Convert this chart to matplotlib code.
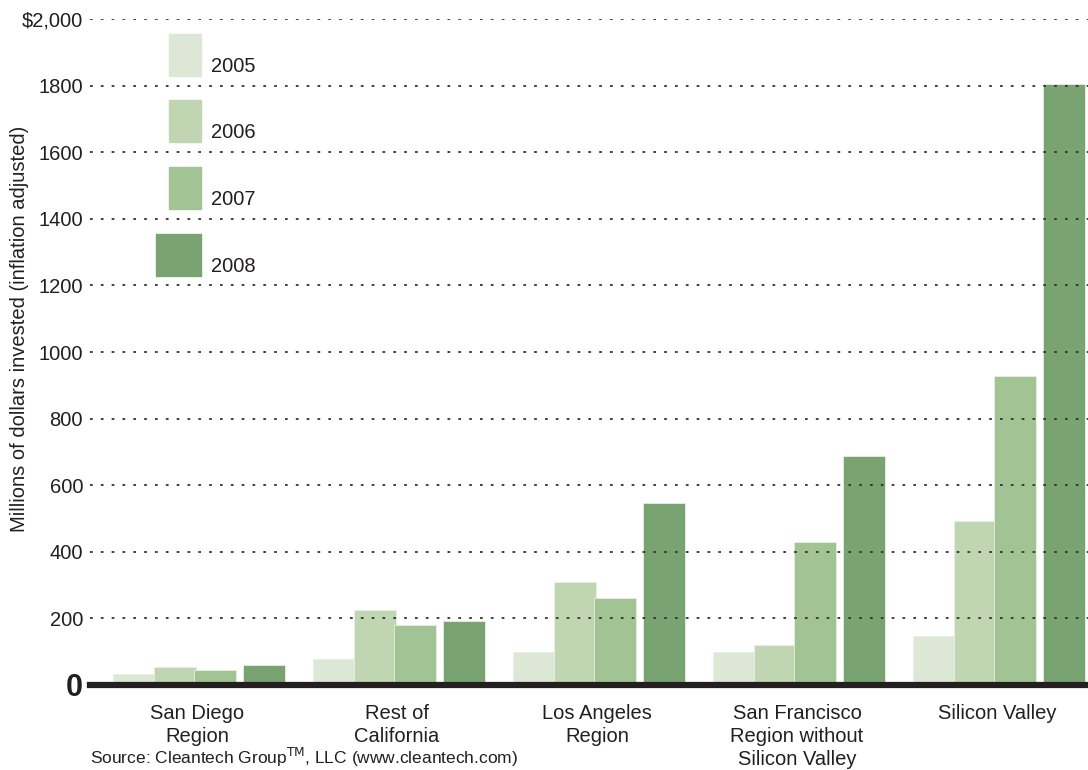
import matplotlib
matplotlib.use("Agg")
import matplotlib.pyplot as plt
from matplotlib.patches import Rectangle
import numpy as np

plt.rcParams["font.family"] = ["Liberation Sans Narrow", "Liberation Sans", "DejaVu Sans"]

regions = ["San Diego\nRegion", "Rest of\nCalifornia", "Los Angeles\nRegion",
           "San Francisco\nRegion without\nSilicon Valley", "Silicon Valley"]
years = ["2005", "2006", "2007", "2008"]
inv_2005 = [33, 78, 98, 98, 147]
inv_2006 = [54, 226, 308, 119, 492]
inv_2007 = [46, 179, 260, 429, 928]
inv_2008 = [60, 192, 547, 688, 1805]
y_ticks = [0, 200, 400, 600, 800, 1000, 1200, 1400, 1600, 1800, 2000]
y_ticklabels = ["0", "200", "400", "600", "800", "1000", "1200", "1400", "1600", "1800", "$2,000"]

colors = ["#dde7d6", "#c0d5b2", "#a2c393", "#7aa372"]
offsets = [-0.315, -0.11, 0.09, 0.335]
width = 0.21

W, H = 1088, 770
fig = plt.figure(figsize=(W / 100, H / 100), dpi=100)
ax = fig.add_axes([90 / W, 1 - 685 / H, 998 / W, 666 / H])

x = np.arange(len(regions))
for vals, off, c in zip([inv_2005, inv_2006, inv_2007, inv_2008], offsets, colors):
    ax.bar(x + off, vals, width, color=c, edgecolor="#e8efe3", linewidth=0.6, zorder=2)

ax.set_xlim(-0.535, 4.455)
ax.set_ylim(0, 2000)
for t in y_ticks[1:]:
    ax.axhline(t, color="#333333", lw=1.3, linestyle=(0, (1.5, 4.5)), zorder=3)
ax.axhline(0, color="#231f20", lw=4.5, zorder=4, clip_on=False)

ax.set_yticks(y_ticks)
ax.set_yticklabels(y_ticklabels, fontsize=14.5, color="#231f20")
ax.get_yticklabels()[0].set_fontsize(22)
ax.get_yticklabels()[0].set_fontweight("bold")
ax.tick_params(axis="y", length=0, pad=5)
ax.set_xticks(x)
ax.set_xticklabels(regions, fontsize=14.5, color="#231f20", linespacing=1.25, va="top")
ax.tick_params(axis="x", length=0, pad=14)
for s in ax.spines.values():
    s.set_visible(False)

fig.text(20 / W, 1 - 329 / H, "Millions of dollars invested (inflation adjusted)",
         rotation=90, ha="center", va="center", fontsize=14.5, color="#231f20")

# legend boxes (drawn by hand, stacked like the original)
leg_boxes = [(169, 34, 201, 76), (169, 100, 201, 142), (169, 167, 201, 209), (156, 234, 201, 276)]
for (x0, y0, x1, y1), c, yr in zip(leg_boxes, colors, years):
    fig.patches.append(Rectangle((x0 / W, 1 - y1 / H), (x1 - x0) / W, (y1 - y0) / H,
                                 transform=fig.transFigure, color=c, figure=fig))
    fig.text(211 / W, 1 - y1 / H, yr, ha="left", va="bottom", fontsize=14.5, color="#231f20")

fig.text(90 / W, 1 - 769 / H, r"Source: Cleantech Group$^{\mathrm{TM}}$, LLC (www.cleantech.com)",
         ha="left", va="bottom", fontsize=12.5, color="#231f20")

fig.savefig("out.png", dpi=100)
